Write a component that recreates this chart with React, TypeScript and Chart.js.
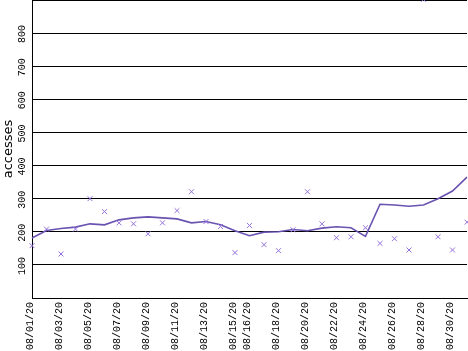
import React, { useEffect, useRef } from "react";
import { Chart, registerables } from "chart.js";

Chart.register(...registerables);

const days: string[] = [
  "08/01/20", "08/02/20", "08/03/20", "08/04/20", "08/05/20", "08/06/20", "08/07/20", "08/08/20",
  "08/09/20", "08/10/20", "08/11/20", "08/12/20", "08/13/20", "08/14/20", "08/15/20", "08/16/20",
  "08/17/20", "08/18/20", "08/19/20", "08/20/20", "08/21/20", "08/22/20", "08/23/20", "08/24/20",
  "08/25/20", "08/26/20", "08/27/20", "08/28/20", "08/29/20", "08/30/20", "08/31/20",
];

const shownLabels: string[] = [
  "08/01/20", "08/03/20", "08/05/20", "08/07/20", "08/09/20", "08/11/20", "08/13/20", "08/15/20",
  "08/16/20", "08/18/20", "08/20/20", "08/22/20", "08/24/20", "08/26/20", "08/28/20", "08/30/20",
];

const accesses: number[] = [
  158, 208, 133, 208, 300, 261, 227, 224, 194, 227, 264, 321, 231, 216, 137, 219,
  161, 143, 206, 321, 224, 182, 185, 212, 165, 179, 145, 902, 185, 145, 229,
];

const trend: number[] = [
  181, 204, 210, 214, 224, 221, 236, 242, 245, 242, 239, 227, 231, 221, 203, 188,
  199, 200, 207, 203, 211, 215, 212, 186, 283, 281, 277, 281, 300, 323, 365,
];

const yTickLabels: number[] = [100, 200, 300, 400, 500, 600, 700, 800];

const yLabelPlugin = {
  id: "yLabels",
  afterDraw(chart: any) {
    const ctx = chart.ctx;
    const y = chart.scales.y;
    ctx.save();
    ctx.fillStyle = "#000";
    ctx.font = "10px 'Liberation Mono'";
    ctx.textAlign = "center";
    ctx.textBaseline = "middle";
    for (const v of yTickLabels) {
      const py = y.getPixelForValue(v);
      ctx.save();
      ctx.translate(22, py + 1);
      ctx.rotate(-Math.PI / 2);
      ctx.fillText(String(v), 0, 0);
      ctx.restore();
    }
    ctx.restore();
  },
};

const noPad = (s: any) => {
  s.paddingLeft = 0;
  s.paddingRight = 0;
  s.paddingTop = 0;
  s.paddingBottom = 0;
};

export default function App() {
  const ref = useRef<HTMLCanvasElement>(null);
  useEffect(() => {
    document.body.style.margin = "0";
    const chart = new Chart(ref.current!, {
      type: "line",
      data: {
        labels: days,
        datasets: [
          {
            label: "accesses",
            data: accesses,
            showLine: false,
            pointStyle: "crossRot",
            pointRadius: 3.5,
            borderColor: "#9370db",
            backgroundColor: "#9370db",
            borderWidth: 1,
            pointHoverRadius: 3.5,
          },
          {
            label: "trend",
            data: trend,
            borderColor: "#6a52b0",
            borderWidth: 1.6,
            pointRadius: 0,
            tension: 0,
            fill: false,
          },
        ],
      },
      options: {
        animation: false,
        responsive: false,
        maintainAspectRatio: false,
        layout: { autoPadding: false, padding: { top: 0, right: 1, bottom: 0, left: 0 } },
        plugins: { legend: { display: false }, tooltip: { enabled: false } },
        scales: {
          x: {
            type: "category",
            offset: false,
            grid: { display: false, drawTicks: false },
            border: { display: true, color: "#000", width: 1 },
            ticks: {
              autoSkip: false,
              minRotation: 90,
              maxRotation: 90,
              padding: 4,
              labelOffset: -2,
              color: "#000",
              font: { family: "'Liberation Mono'", size: 10 },
              callback: (_v: any, i: number) => (shownLabels.includes(days[i]) ? days[i] : ""),
            },
            afterFit: (s: any) => {
              s.height = 53;
              noPad(s);
            },
          },
          y: {
            min: 0,
            max: 900,
            grid: { color: "#000", lineWidth: 1, drawTicks: false },
            border: { display: true, color: "#000", width: 1 },
            ticks: { stepSize: 100, display: false },
            title: {
              display: true,
              text: "accesses",
              color: "#000",
              font: { family: "'DejaVu Sans'", size: 13 },
              padding: { top: 1, bottom: 0 },
            },
            afterFit: (s: any) => {
              s.width = 32;
              noPad(s);
            },
          },
        },
      },
      plugins: [yLabelPlugin],
    });
    return () => chart.destroy();
  }, []);
  return (
    <div style={{ width: 468, height: 351 }}>
      <canvas ref={ref} width={468} height={351} />
    </div>
  );
}
